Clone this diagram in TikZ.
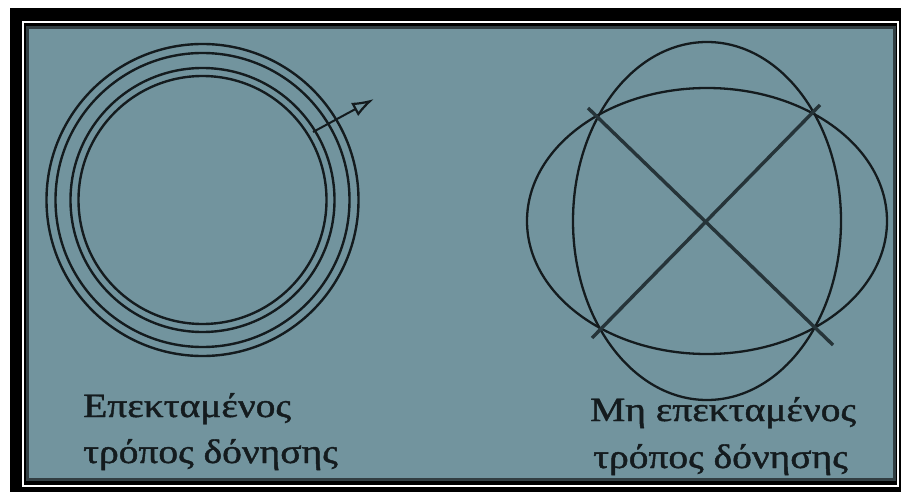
\documentclass[tikz,border=0pt]{standalone}
\usepackage{fontspec}
\setmainfont{Liberation Serif}
\newfontfamily\lblfont[FakeBold=1.2]{Liberation Serif}
\usetikzlibrary{arrows.meta}
\definecolor{panel}{RGB}{114,148,158}
\definecolor{rim}{RGB}{50,62,66}
\definecolor{ink}{RGB}{20,27,30}
\definecolor{xline}{RGB}{38,52,57}
\tikzset{
  ring/.style={draw=ink, line width=2.4pt},
  oval/.style={draw=ink, line width=2.3pt},
  cross/.style={draw=xline, line width=3.4pt},
  lbl/.style={anchor=base west, inner sep=0pt, text=ink, xscale=1.16, font=\lblfont\fontsize{34}{34}\selectfont},
}
\begin{document}
\begin{tikzpicture}[x=1pt,y=-1pt]
\useasboundingbox (0,0) rectangle (901,492);
\fill[white] (0,0) rectangle (901,492);
\fill[black] (10,8) rectangle (901,492);
\draw[white, line width=1.6pt] (23,22) rectangle (898,486);
\fill[rim] (26,26) rectangle (896,481);
\fill[panel] (29,29) rectangle (893,478);
% left: concentric circles
\coordinate (c) at (202.5,200);
\draw[ring] (c) circle[radius=156pt];
\draw[ring] (c) circle[radius=147pt];
\draw[ring] (c) circle[radius=132pt];
\draw[ring] (c) circle[radius=124pt];
\coordinate (a0) at (313,132);
\coordinate (a1) at (374,99);
\draw[draw=ink, line width=2pt, -{Latex[open, length=22pt, width=15pt, line width=2.2pt]}] (a0) -- (a1);
% right: ellipses and cross
\coordinate (e) at (707,221);
\draw[oval] (e) ellipse[x radius=180pt, y radius=133pt];
\draw[oval] (e) ellipse[x radius=134pt, y radius=179pt];
\coordinate (p1) at (588,108);
\coordinate (p2) at (833,345);
\coordinate (q1) at (820,105);
\coordinate (q2) at (592,338);
\draw[cross] (p1) -- (p2);
\draw[cross] (q1) -- (q2);
% labels
\node[lbl] (t1) at (83,417) {Επεκταμένος};
\node[lbl] (t2) at (83,463) {τρόπος δόνησης};
\node[lbl] (t3) at (590,421) {Μη επεκταμένος};
\node[lbl] (t4) at (593,468) {τρόπος δόνησης};
\end{tikzpicture}
\end{document}
